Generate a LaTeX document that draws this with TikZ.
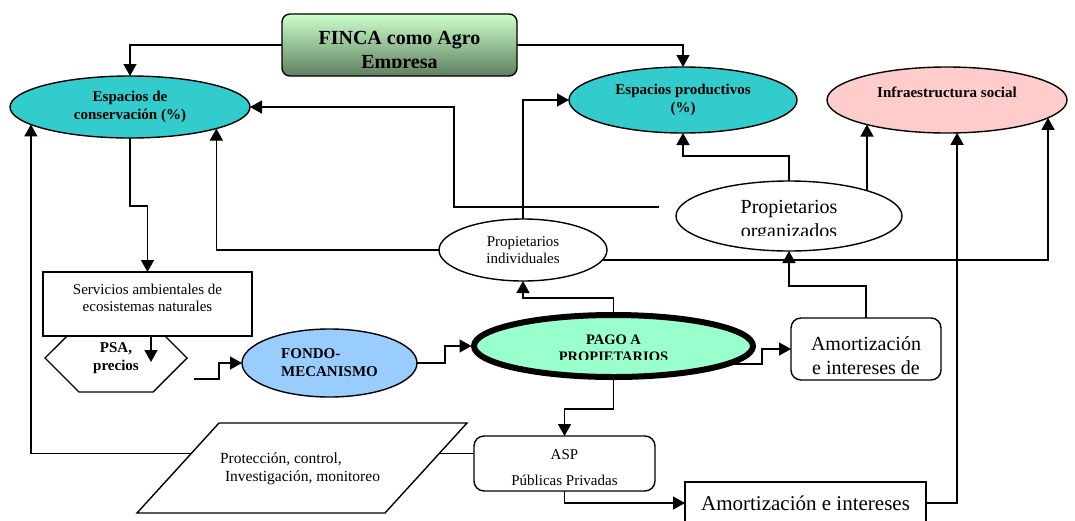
\documentclass[tikz,border=0pt]{standalone}
\usepackage{fontspec}
\setmainfont{Liberation Serif}
\usetikzlibrary{arrows.meta,shapes.geometric,shapes.symbols}
\definecolor{turq}{HTML}{33CCCC}
\definecolor{rosa}{HTML}{FFCCCC}
\definecolor{celeste}{HTML}{99CCFF}
\definecolor{menta}{HTML}{99FFCC}
\definecolor{verdeclaro}{HTML}{CCFFCC}
\definecolor{verdeosc}{HTML}{5F7F5F}

\begin{document}
\begin{tikzpicture}[x=1pt,y=-1pt,
    link/.style={line width=1.5pt},
    arr/.style={link,-{Triangle[length=12pt,width=13pt]}},
    oval/.style={ellipse,draw,line width=1.4pt,inner sep=0pt,outer sep=0pt},
    caja/.style={rectangle,draw,line width=1.4pt,inner sep=0pt,outer sep=0pt,fill=white},
    dentro/.style={draw=none,fill=none,inner sep=0pt,outer sep=0pt,align=center},
    txtbold/.style={font=\fontsize{15}{18}\selectfont\bfseries,align=center},
    txtreg/.style={font=\fontsize{15}{17.5}\selectfont,align=center},
    txtbig/.style={font=\fontsize{20}{23.5}\selectfont,align=center}]

    \useasboundingbox (0,0) rectangle (1075,520);

    % nodos
    \node[caja,rounded corners=8pt,top color=verdeclaro,bottom color=verdeosc,
          minimum width=235pt,minimum height=62pt,
          path picture={\clip ([xshift=-150pt,yshift=60pt]path picture bounding box.center)
                     rectangle ([xshift=150pt,yshift=-22pt]path picture bounding box.center);
            \node[dentro,font=\fontsize{20}{23.5}\selectfont\bfseries]
            at ([yshift=-7pt]path picture bounding box.center) {FINCA como Agro\\Empresa};}]
          (finca) at (399.5,45) {};
    \node[oval,fill=turq,minimum width=240pt,minimum height=62pt,txtbold] (cons) at (130,107) {Espacios de\\conservación (\%)};
    \node[oval,fill=turq,minimum width=228pt,minimum height=66pt,txtbold] (prod) at (683,100) {Espacios productivos\\(\%)};
    \node[oval,fill=rosa,minimum width=240pt,minimum height=66pt,
          path picture={\node[dentro,txtbold]
            at ([yshift=8pt]path picture bounding box.center) {Infraestructura social};}]
          (infra) at (947,100) {};
    \node[oval,fill=white,minimum width=226pt,minimum height=70pt,
          path picture={\clip ([xshift=-150pt,yshift=60pt]path picture bounding box.center)
                     rectangle ([xshift=150pt,yshift=-19pt]path picture bounding box.center);
            \node[dentro,txtbig] at ([yshift=-5pt]path picture bounding box.center) {Propietarios\\organizados};}]
          (porg) at (789,216) {};
    \node[oval,fill=white,minimum width=168pt,minimum height=62pt,txtreg] (pind) at (523,250) {Propietarios\\individuales};
    \node[signal,signal to=west and east,signal pointer angle=90,draw,line width=1.4pt,fill=white,
          minimum width=142pt,minimum height=68pt,inner sep=0pt,txtbold] (psa) at (116,358) {PSA,\\precios};
    \node[caja,minimum width=209pt,minimum height=64pt,
          path picture={\node[dentro,txtreg]
            at ([yshift=6pt]path picture bounding box.center) {Servicios ambientales de\\ecosistemas naturales};}]
          (serv) at (147.5,304) {};
    \node[oval,fill=celeste,minimum width=175pt,minimum height=68pt,txtbold,align=left] (fondo) at (329.5,363) {FONDO-\\MECANISMO};
    \node[oval,fill=menta,line width=6pt,minimum width=279pt,minimum height=62pt,
          path picture={\clip ([xshift=-150pt,yshift=60pt]path picture bounding box.center)
                     rectangle ([xshift=150pt,yshift=-13.5pt]path picture bounding box.center);
            \node[dentro,font=\fontsize{14.5}{17}\selectfont\bfseries]
            at ([yshift=-2.6pt]path picture bounding box.center) {PAGO A\\PROPIETARIOS};}]
          (pago) at (613.5,346) {};
    \node[caja,rounded corners=10pt,minimum width=150pt,minimum height=62pt,
          path picture={\node[dentro,txtbig]
            at ([yshift=-6.5pt]path picture bounding box.center) {Amortización\\e intereses de};}]
          (amortA) at (866,349) {};
    \node[caja,rounded corners=10pt,minimum width=181pt,minimum height=55pt,
          path picture={\node[dentro,font=\fontsize{15}{26}\selectfont]
            at ([yshift=-4.5pt]path picture bounding box.center) {ASP\\Públicas Privadas};}]
          (asp) at (564.5,463.5) {};
    \node[caja,minimum width=241pt,minimum height=42pt,font=\fontsize{21}{24}\selectfont] (amortB) at (805.5,503) {Amortización e intereses};

    \coordinate (porgcola) at (659,207);
    \coordinate (psacola) at (194,379);
    \coordinate (psapunta) at (151,362);

    % conexiones
    \draw[arr] (finca.west) -| (cons.north);
    \draw[arr] (finca.east) -| (prod.north);
    \draw[arr] (porgcola) -| (454,107) -- (cons.east);
    \draw[arr] (pind.north) |- (prod.west);
    \draw[arr] (pind.west) -| (cons.-14);
    \draw[arr] (pind.-7) -| (infra.-10);
    \draw[arr] (porg.north) -- ++(0,-25) -| (prod.south);
    \draw[arr] (porg.18) -- (porg.18 |- infra.197);
    \draw[arr] (amortB.east) -| (infra.-73);
    \draw[arr] (amortA.north) -- ++(0,-32) -| (porg.south);
    \draw[arr] (pago.-9) -- ++(35,0) |- (amortA.west);
    \draw[arr] (pago.north) -- ++(0,-17) -| (pind.south);
    \draw[arr,shorten >=2.5pt] (fondo.east) -- ++(28,0) |- (pago.west);
    \draw[arr] (psacola) -- ++(25,0) |- (fondo.west);
    \draw[arr] (cons.south) -- ++(0,68) -| (serv.north);
    \draw[arr] (serv.south -| psapunta) -- (psapunta);
    \draw[arr] ([yshift=10pt]asp.west) -| (cons.190);
    \draw[arr] (pago.south) -- ++(0,32) -| (asp.north);
    \draw[arr] (asp.south) |- (amortB.west);

    % paralelogramo encima de la linea
    \draw[line width=1.4pt,fill=white] (219,423) -- (467,423) -- (385,513) -- (137,513) -- cycle;
    \node[font=\fontsize{15.5}{18}\selectfont,align=left,inner sep=0pt]
          (prot) at (300,469) {Protección, control,\\\hspace{5pt}Investigación, monitoreo};

\end{tikzpicture}
\end{document}
